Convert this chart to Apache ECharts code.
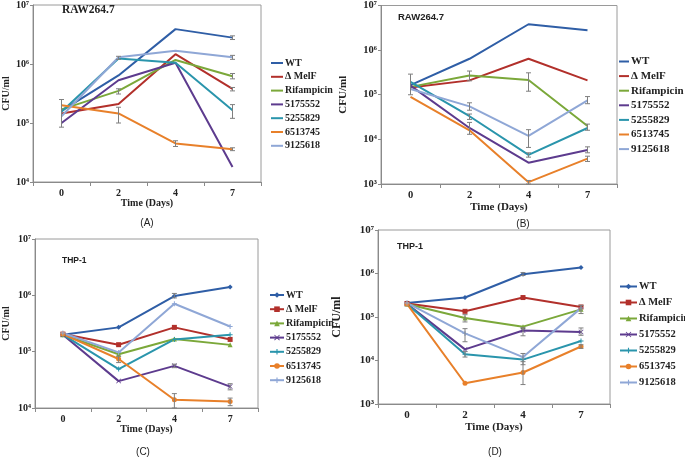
<!DOCTYPE html>
<html><head><meta charset="utf-8">
<script src="https://cdn.jsdelivr.net/npm/echarts/dist/echarts.min.js"></script>
<style>html,body{margin:0;padding:0;background:#fff}#c{width:685px;height:457px}</style>
</head><body><div id="c"></div><script>
// ---- data ----
const days = ['0', '2', '4', '7'];
const strains = ['WT', 'Δ MelF', 'Rifampicin', '5175552', '5255829', '6513745', '9125618'];
const palette = ['#2f5ea6', '#b2302b', '#7ba83a', '#5d3b8e', '#2a95ac', '#e8802a', '#8fa7d6'];

// Panel A: RAW264.7 (rows follow strains order)
const panelA = [
  [1.6e5, 6.4e5, 3.9e6, 2.8e6],
  [1.45e5, 2.1e5, 1.47e6, 3.8e5],
  [1.7e5, 3.5e5, 1.17e6, 6.2e5],
  [1.0e5, 5.3e5, 1.05e6, 1.8e4],
  [1.55e5, 1.24e6, 1.05e6, 1.65e5],
  [2.0e5, 1.45e5, 4.5e4, 3.6e4],
  [1.3e5, 1.3e6, 1.67e6, 1.3e6]
];
// Panel B: RAW264.7
const panelB = [
  [1.65e5, 6.4e5, 3.8e6, 2.8e6],
  [1.45e5, 2.1e5, 6.4e5, 2.1e5],
  [1.5e5, 2.7e5, 2.15e5, 2.0e4],
  [1.6e5, 1.8e4, 3.0e3, 5.8e3],
  [1.95e5, 3.3e4, 4.5e3, 1.8e4],
  [9.0e4, 1.6e4, 1.1e3, 3.7e3],
  [1.35e5, 5.5e4, 1.2e4, 7.5e4]
];
// Panel C: THP-1
const panelC = [
  [2.0e5, 2.7e5, 9.7e5, 1.4e6],
  [2.05e5, 1.33e5, 2.7e5, 1.65e5],
  [2.0e5, 9.0e4, 1.68e5, 1.32e5],
  [2.0e5, 3.0e4, 5.6e4, 2.4e4],
  [2.0e5, 4.9e4, 1.65e5, 2.0e5],
  [2.05e5, 7.4e4, 1.4e4, 1.3e4],
  [2.15e5, 9.7e4, 7.1e5, 2.8e5]
];
// Panel D: THP-1
const panelD = [
  [2.1e5, 2.8e5, 9.6e5, 1.38e6],
  [2.05e5, 1.35e5, 2.8e5, 1.7e5],
  [2.0e5, 9.5e4, 6.0e4, 1.5e5],
  [2.0e5, 1.8e4, 4.9e4, 4.5e4],
  [2.0e5, 1.4e4, 1.05e4, 2.8e4],
  [2.0e5, 3.0e3, 5.3e3, 2.1e4],
  [2.1e5, 4.2e4, 1.2e4, 1.6e5]
];
// error bars: [day index, low, high]
const errA = [[0, 8.5e4, 2.5e5], [1, 3.1e5, 3.8e5], [1, 1.0e5, 1.85e5], [1, 1.2e6, 1.35e6], [2, 4.0e4, 5.0e4],
  [3, 2.6e6, 3.0e6], [3, 1.2e6, 1.4e6], [3, 5.6e5, 6.9e5], [3, 3.5e5, 4.0e5], [3, 1.2e5, 2.05e5], [3, 3.4e4, 3.8e4]];
const errB = [[0, 1.0e5, 2.9e5], [1, 2.05e5, 3.4e5], [1, 4.5e4, 6.6e4], [1, 2.8e4, 3.7e4], [1, 1.3e4, 2.4e4],
  [2, 1.2e5, 3.1e5], [2, 6.6e3, 1.65e4], [2, 4.0e3, 5.0e3], [2, 1.0e3, 1.2e3],
  [3, 6.3e4, 9.1e4], [3, 1.6e4, 2.2e4], [3, 5.0e3, 6.8e3], [3, 3.2e3, 4.2e3]];
const errC = [[1, 6.4e4, 8.3e4], [2, 9.0e5, 1.08e6], [2, 1.0e4, 1.8e4], [2, 5.2e4, 6.0e4], [3, 2.1e4, 2.7e4], [3, 1.1e4, 1.5e4]];
const errD = [[1, 7.7e4, 1.13e5], [1, 2.7e4, 5.4e4], [1, 1.2e4, 1.6e4], [2, 9.0e5, 1.05e6], [2, 3.7e4, 5.7e4],
  [2, 8.0e3, 1.45e4], [2, 2.8e3, 9.4e3], [3, 1.2e5, 1.85e5], [3, 3.8e4, 5.6e4], [3, 1.9e4, 2.3e4]];

// ---- chart ----
const SERIF = '"Liberation Serif", "Times New Roman", serif';
const SANS = '"Liberation Sans", Arial, sans-serif';
const sup = {'3': '³', '4': '⁴', '5': '⁵', '6': '⁶', '7': '⁷'};
const markers = ['diamond', 'rect', 'triangle',
  'path://M0,1 L1,0 L5,4 L9,0 L10,1 L6,5 L10,9 L9,10 L5,6 L1,10 L0,9 L4,5 Z',
  'path://M4,0 H6 V4 H10 V6 H6 V10 H4 V6 H0 V4 H4 Z',
  'circle',
  'path://M4,0 H6 V4 H10 V6 H6 V10 H4 V6 H0 V4 H4 Z'];

const panels = [
  {key: 'C', data: panelC, err: errC, grid: {left: 32, top: 239, width: 226, height: 169}, ymin: 1e4, sym: true,
    yName: 24, yNameSize: 10, xGap: 15, xNameSize: 10, labSize: 10,
    legend: {left: 269, top: 290, gap: 4.2, font: 10, w: 14}},
  {key: 'D', data: panelD, err: errD, grid: {left: 378, top: 230, width: 232, height: 174}, ymin: 1e3, sym: true,
    yName: 35, yNameSize: 12, xGap: 18, xNameSize: 11, labSize: 11,
    legend: {left: 619, top: 281, gap: 5, font: 10.5, w: 17}},
  {key: 'A', data: panelA, err: errA, grid: {left: 32, top: 3, width: 229, height: 179}, ymin: 1e4, sym: false,
    yName: 22, yNameSize: 10, xGap: 15, xNameSize: 10, labSize: 10,
    legend: {left: 271, top: 58, gap: 3.8, font: 10, w: 12}},
  {key: 'B', data: panelB, err: errB, grid: {left: 381, top: 3, width: 236, height: 181}, ymin: 1e3, sym: false,
    yName: 32, yNameSize: 11, xGap: 16, xNameSize: 11, labSize: 10.5,
    legend: {left: 619, top: 56, gap: 3.6, font: 11, w: 10}}
];

const grid = [], xAxis = [], yAxis = [], series = [], legend = [];
panels.forEach((p, i) => {
  grid.push(Object.assign({show: true, borderColor: '#9a9a9a', borderWidth: 1, backgroundColor: 'transparent'}, p.grid));
  xAxis.push({
    type: 'category', gridIndex: i, data: days, boundaryGap: true,
    name: 'Time (Days)', nameLocation: 'middle', nameGap: p.xGap,
    nameTextStyle: {fontFamily: SERIF, fontWeight: 'bold', fontSize: p.xNameSize, color: '#222'},
    axisLine: {lineStyle: {color: '#8a8a8a', width: 1}},
    axisTick: {show: true, length: 4, lineStyle: {color: '#8a8a8a'}},
    axisLabel: {fontFamily: SERIF, fontWeight: 'bold', fontSize: p.labSize, color: '#222', margin: 6},
    splitLine: {show: false}
  });
  yAxis.push({
    type: 'log', logBase: 10, gridIndex: i, min: p.ymin, max: 1e7,
    name: 'CFU/ml', nameLocation: 'middle', nameGap: p.yName, nameRotate: 90,
    nameTextStyle: {fontFamily: SERIF, fontWeight: 'bold', fontSize: p.yNameSize, color: '#222'},
    axisLine: {show: true, lineStyle: {color: '#8a8a8a', width: 1}},
    axisTick: {show: true, length: 3, lineStyle: {color: '#8a8a8a'}},
    axisLabel: {fontFamily: SERIF, fontWeight: 'bold', fontSize: p.labSize, color: '#222', margin: 4,
      formatter: v => '10' + sup[String(Math.round(Math.log10(v)))]},
    splitLine: {show: false}
  });
  strains.forEach((s, k) => {
    series.push({
      type: 'line', name: s, xAxisIndex: i, yAxisIndex: i, data: p.data[k],
      color: palette[k],
      lineStyle: {width: 2, color: palette[k]},
      itemStyle: {color: palette[k]},
      symbol: p.sym ? markers[k] : 'none', symbolSize: p.sym ? 5 : 0, showSymbol: p.sym,
      animation: false, z: 2
    });
  });
  series.push({
    type: 'custom', xAxisIndex: i, yAxisIndex: i, data: p.err, animation: false, z: 3,
    silent: true,
    renderItem: (params, api) => {
      const lo = api.coord([api.value(0), api.value(1)]);
      const hi = api.coord([api.value(0), api.value(2)]);
      const c = 2.5, st = {stroke: '#7f7f7f', lineWidth: 1};
      return {type: 'group', children: [
        {type: 'line', shape: {x1: lo[0], y1: lo[1], x2: hi[0], y2: hi[1]}, style: st},
        {type: 'line', shape: {x1: lo[0] - c, y1: lo[1], x2: lo[0] + c, y2: lo[1]}, style: st},
        {type: 'line', shape: {x1: hi[0] - c, y1: hi[1], x2: hi[0] + c, y2: hi[1]}, style: st}
      ]};
    }
  });
  const lg = {
    orient: 'vertical', left: p.legend.left, top: p.legend.top, itemGap: p.legend.gap,
    data: strains, selectedMode: false, padding: 0,
    itemWidth: p.legend.w, itemHeight: p.sym ? 7 : 2,
    textStyle: {fontFamily: SERIF, fontWeight: 'bold', fontSize: p.legend.font, color: '#222', padding: [0, 0, 0, -3]}
  };
  if (!p.sym) lg.icon = 'rect';
  legend.push(lg);
});

const option = {
  backgroundColor: '#fff', animation: false,
  grid, xAxis, yAxis, series, legend,
  graphic: [
    {type: 'text', x: 62, y: 10, silent: true, style: {text: 'RAW264.7', fontFamily: SERIF, fontSize: 11.5, fontWeight: 'bold', fill: '#222', verticalAlign: 'middle'}},
    {type: 'text', x: 398, y: 17, silent: true, style: {text: 'RAW264.7', fontFamily: SANS, fontSize: 9.5, fontWeight: 'bold', fill: '#222', verticalAlign: 'middle'}},
    {type: 'text', x: 62, y: 261, silent: true, style: {text: 'THP-1', fontFamily: SANS, fontSize: 8.5, fontWeight: 'bold', fill: '#222', verticalAlign: 'middle'}},
    {type: 'text', x: 397, y: 247, silent: true, style: {text: 'THP-1', fontFamily: SANS, fontSize: 9, fontWeight: 'bold', fill: '#222', verticalAlign: 'middle'}},
    {type: 'text', x: 147, y: 223, silent: true, style: {text: '(A)', fontFamily: SANS, fontSize: 10, fill: '#222', align: 'center', verticalAlign: 'middle'}},
    {type: 'text', x: 523, y: 224, silent: true, style: {text: '(B)', fontFamily: SANS, fontSize: 10, fill: '#222', align: 'center', verticalAlign: 'middle'}},
    {type: 'text', x: 143, y: 452, silent: true, style: {text: '(C)', fontFamily: SANS, fontSize: 10, fill: '#222', align: 'center', verticalAlign: 'middle'}},
    {type: 'text', x: 495, y: 452, silent: true, style: {text: '(D)', fontFamily: SANS, fontSize: 10, fill: '#222', align: 'center', verticalAlign: 'middle'}}
  ]
};
const chart = echarts.init(document.getElementById('c'), null, {renderer: 'canvas'});
chart.setOption(option);
</script></body></html>
